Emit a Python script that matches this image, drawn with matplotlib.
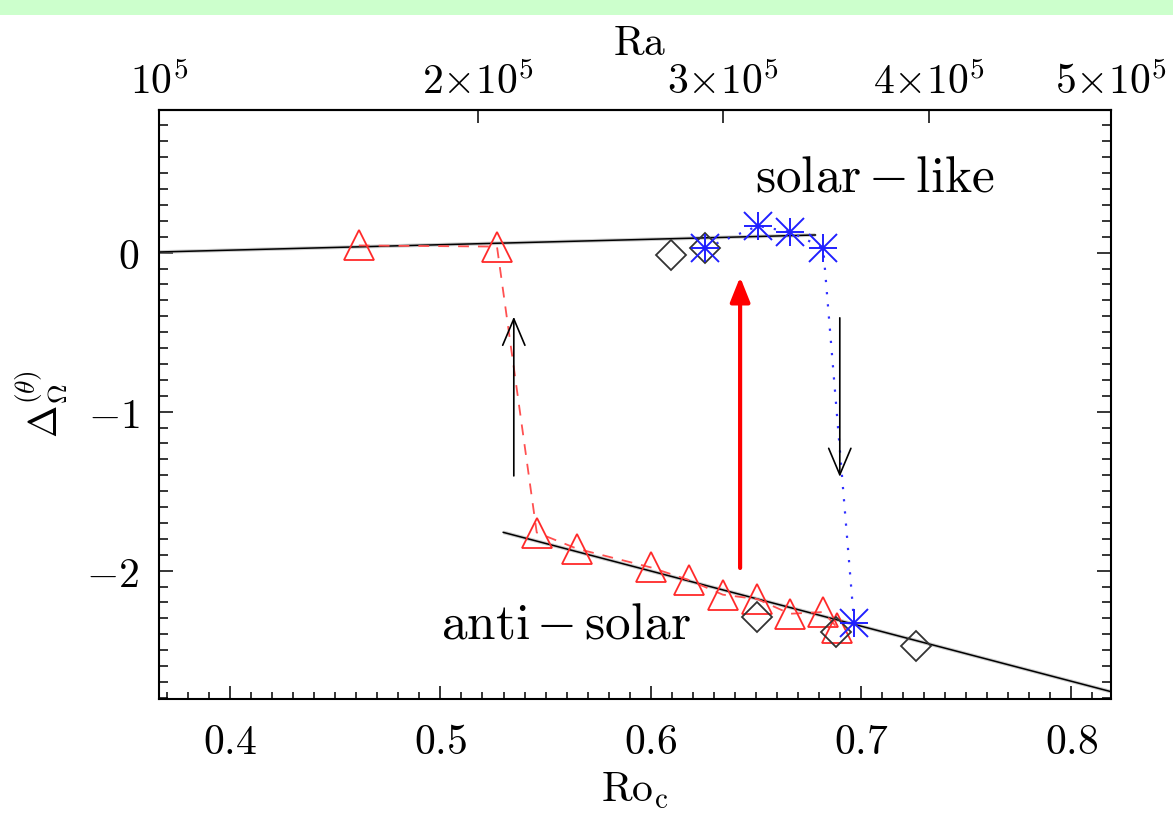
import numpy as np
import matplotlib
matplotlib.use('Agg')
import matplotlib.pyplot as plt
from matplotlib.patches import FancyArrowPatch, Rectangle
from matplotlib.ticker import MultipleLocator, FixedLocator, FixedFormatter

plt.rcParams['mathtext.fontset'] = 'cm'
plt.rcParams['font.family'] = ['DejaVu Serif']

# ---------------- data ----------------
# red triangles (upper branch then lower branch), joined by a dashed line
ro_tri = [0.4612, 0.5269, 0.5458, 0.5650, 0.6002, 0.6180, 0.6343, 0.6507, 0.6662, 0.6820, 0.6888]
d_tri = [0.045, 0.038, -1.760, -1.862, -1.980, -2.058, -2.151, -2.179, -2.271, -2.260, -2.360]
# blue asterisks, joined by a dotted line
ro_star = [0.6259, 0.6510, 0.6662, 0.6820, 0.6967]
d_star = [0.028, 0.168, 0.130, 0.031, -2.327]
# black diamonds
ro_dia = [0.6096, 0.6259, 0.6507, 0.6883, 0.7260]
d_dia = [-0.015, 0.028, -2.289, -2.384, -2.472]
# fitted lines (end points)
fit_up_ro = [0.3662, 0.6783]
fit_up_d = [0.004, 0.111]
fit_low_ro = [0.5299, 0.8189]
fit_low_d = [-1.759, -2.761]
# arrows: (x, y_tail, y_head)
arrow_up = (0.5349, -1.404, -0.403)
arrow_down = (0.6899, -0.410, -1.410)
arrow_red = (0.6425, -1.983, -0.153)
# ticks
xticks = [0.4, 0.5, 0.6, 0.7, 0.8]
xticklabels = [r'$0.4$', r'$0.5$', r'$0.6$', r'$0.7$', r'$0.8$']
yticks = [0, -1, -2]
yticklabels = [r'$0$', r'$-1$', r'$-2$']
ra_ticks = [1e5, 2e5, 3e5, 4e5, 5e5]
ra_ticklabels = [r'$10^5$', r'$2{\times}10^5$', r'$3{\times}10^5$', r'$4{\times}10^5$', r'$5{\times}10^5$']
RO0 = 0.3662  # Ro_c at Ra = 1e5 (Ro_c ~ sqrt(Ra))

# ---------------- figure ----------------
W, H = 1173, 813
fig = plt.figure(figsize=(W / 100, H / 100), dpi=100)
fig.patches.append(Rectangle((0, 1 - 15 / H), 1, 15 / H, transform=fig.transFigure,
                             facecolor='#ccffcc', edgecolor='none', zorder=0))
ax = fig.add_axes([159 / W, 1 - 699 / H, (1111 - 159) / W, (699 - 110) / H])
ax.set_xlim(RO0, RO0 * np.sqrt(5))
ax.set_ylim(-2.807, 0.897)

# fit lines
ax.plot(fit_up_ro, fit_up_d, color='#aaaaaa', lw=2.6, alpha=0.6, zorder=2, solid_capstyle='butt')
ax.plot(fit_up_ro, fit_up_d, color='black', lw=1.1, zorder=2.1)
ax.plot(fit_low_ro, fit_low_d, color='#aaaaaa', lw=2.6, alpha=0.6, zorder=2, solid_capstyle='butt')
ax.plot(fit_low_ro, fit_low_d, color='black', lw=1.1, zorder=2.1)

# red dashed + triangles
ax.plot(ro_tri, d_tri, color='#ff5050', lw=1.3, dashes=(6, 5), zorder=3)
ax.plot(ro_tri, d_tri, ls='none', marker='^', ms=21, mfc='none', mec='#ff2a2a', mew=1.3, zorder=4)

# diamonds
ax.plot(ro_dia, d_dia, ls='none', marker='D', ms=15.5, mfc='none', mec='#333333', mew=1.3, zorder=4)

# blue dotted + asterisks
ax.plot(ro_star, d_star, color='#3030ff', lw=1.6, dashes=(1, 4.5), zorder=3)
ax.plot(ro_star, d_star, ls='none', marker='+', ms=20, mec='#2020ff', mew=1.4, zorder=5)
ax.plot(ro_star, d_star, ls='none', marker='x', ms=20, mec='#2020ff', mew=1.4, zorder=5)

# arrows
for (x, y0, y1) in (arrow_up, arrow_down):
    ax.add_patch(FancyArrowPatch((x, y0), (x, y1), arrowstyle='->,head_length=19,head_width=8',
                                 mutation_scale=1, color='black', lw=1.2, shrinkA=0, shrinkB=0, zorder=6))
x, y0, y1 = arrow_red
ax.add_patch(FancyArrowPatch((x, y0), (x, y1), arrowstyle='-|>,head_length=15,head_width=6',
                             mutation_scale=1, color='#ff0000', lw=3.0, shrinkA=0, shrinkB=0, zorder=6))

# texts
ax.text(0.6496, 0.47, r'$\mathrm{solar}\,{-}\,\mathrm{like}$', fontsize=37, ha='left', va='center', zorder=7)
ax.text(0.5001, -2.342, r'$\mathrm{anti}\,{-}\,\mathrm{solar}$', fontsize=37, ha='left', va='center', zorder=7)

# ticks
ax.xaxis.set_major_locator(FixedLocator(xticks))
ax.xaxis.set_major_formatter(FixedFormatter(xticklabels))
ax.xaxis.set_minor_locator(MultipleLocator(0.01))
ax.yaxis.set_major_locator(FixedLocator(yticks))
ax.yaxis.set_major_formatter(FixedFormatter(yticklabels))
ax.yaxis.set_minor_locator(MultipleLocator(0.1))
ax.tick_params(axis='x', which='both', direction='in', top=False, bottom=True, width=1.1,
               labelsize=30, pad=16)
ax.tick_params(axis='x', which='major', length=9.5)
ax.tick_params(axis='x', which='minor', length=5)
ax.tick_params(axis='y', which='both', direction='in', left=True, right=True, width=1.1,
               labelsize=30, pad=14)
ax.tick_params(axis='y', which='major', length=10)
ax.tick_params(axis='y', which='minor', length=6.8)
for s in ax.spines.values():
    s.set_linewidth(1.5)

sec = ax.secondary_xaxis('top', functions=(lambda r: 1e5 * (np.asarray(r) / RO0) ** 2,
                                           lambda ra: RO0 * np.sqrt(np.maximum(np.asarray(ra), 0) / 1e5)))
sec.xaxis.set_major_locator(FixedLocator(ra_ticks))
sec.xaxis.set_major_formatter(FixedFormatter(ra_ticklabels))
sec.xaxis.set_minor_locator(FixedLocator([]))
sec.tick_params(axis='x', which='major', direction='in', length=9.5, width=1.1, labelsize=30, pad=5)
sec.spines['top'].set_linewidth(1.5)

# axis labels
fig.text(635 / W, 1 - 790 / H, r'$\mathrm{Ro}_\mathrm{c}$', fontsize=30, ha='center', va='center')
fig.text(640 / W, 1 - 43 / H, r'$\mathrm{Ra}$', fontsize=30, ha='center', va='center')
fig.text(41 / W, 1 - 404 / H, r'$\Delta_\Omega^{(\theta)}$', fontsize=28, ha='center', va='center',
         rotation=90)

fig.savefig('out.png', dpi=100)
